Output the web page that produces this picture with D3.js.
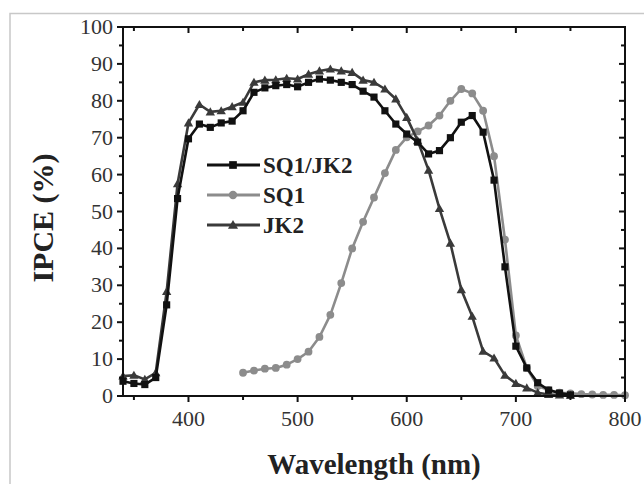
<!DOCTYPE html>
<html><head><meta charset="utf-8">
<script src="https://cdn.jsdelivr.net/npm/d3@7"></script>
<style>body{margin:0;background:#fff}svg{display:block}</style>
</head><body>
<svg id="c" width="644" height="484"></svg>
<script>
const wavelengths = [340,350,360,370,380,390,400,410,420,430,440,450,460,470,480,490,500,510,520,530,540,550,560,570,580,590,600,610,620,630,640,650,660,670,680,690,700,710,720,730,740,750];
const sq1jk2 = [4,3.4,3.1,5,24.7,53.5,69.7,73.7,72.8,74,74.5,77.3,82.3,83.5,84.1,84.4,83.8,85,85.9,85.6,85,84.4,82.6,81,77.3,73.7,71,68.8,65.6,66.5,70,74.2,76,71.5,58.5,35,13.5,7.6,3.6,1.6,0.8,0.3];
const jk2 = [5.4,5.6,4.5,6.3,28.3,57.5,74,79,77,77.3,78.4,79.6,85,85.6,85.7,86.1,85.9,87.2,88.1,88.6,88.1,87.7,85.6,85,83.2,80.5,75.5,69.2,61.2,50.8,41.4,28.8,21.6,12.1,10.3,5.6,3.4,2.2,0.9,0.4,0.3,0.2];
const sq1Wavelengths = [450,460,470,480,490,500,510,520,530,540,550,560,570,580,590,600,610,620,630,640,650,660,670,680,690,700,710,720,730,740,750,760,770,780,790,800];
const sq1 = [6.3,6.9,7.4,7.6,8.5,10,12,16,22,30.6,40,47.2,53.8,60.4,66.7,70.1,71.7,73.3,76,80,83.2,82,77.3,65,42.4,16.4,7.6,2.7,1.6,0.9,0.7,0.5,0.4,0.3,0.3,0.2];
const xMajor = [400,500,600,700,800];
const xMinor = [350,450,550,650,750];
const yMajor = [0,10,20,30,40,50,60,70,80,90,100];
const yMinor = [5,15,25,35,45,55,65,75,85,95];
const seriesNames = ["SQ1/JK2","SQ1","JK2"];

const svg = d3.select("#c");
const L=123,R=625,T=27,B=396;
const x = d3.scaleLinear().domain([340,800]).range([L,R]);
const y = d3.scaleLinear().domain([0,100]).range([B,T]);
const serif = "'Liberation Serif','Times New Roman',serif";

// outer light frame
svg.append("rect").attr("x",10).attr("y",13.5).attr("width",700).attr("height",600)
  .attr("fill","none").attr("stroke","#c8c8c8").attr("stroke-width",1.5);

const series = [
  {name:seriesNames[0], xs:wavelengths, ys:sq1jk2, color:"#111", shape:"square"},
  {name:seriesNames[1], xs:sq1Wavelengths, ys:sq1, color:"#8c8c8c", shape:"circle"},
  {name:seriesNames[2], xs:wavelengths, ys:jk2, color:"#3a3a3a", shape:"triangle"}
];
const drawOrder = [series[1], series[2], series[0]];
const line = d3.line().x(d=>x(d[0])).y(d=>y(d[1]));
function marker(g, shape, color, cx, cy, s){
  if(shape==="square") g.append("rect").attr("x",cx-s*0.55).attr("y",cy-s*0.55).attr("width",s*1.1).attr("height",s*1.1).attr("fill",color);
  else if(shape==="circle") g.append("circle").attr("cx",cx).attr("cy",cy).attr("r",s*0.6).attr("fill",color);
  else g.append("path").attr("d",d3.symbol(d3.symbolTriangle, s*s*0.9)()).attr("transform",`translate(${cx},${cy+0.8})`).attr("fill",color);
}
drawOrder.forEach(s=>{
  const pts = s.xs.map((w,i)=>[w,s.ys[i]]);
  const g = svg.append("g");
  g.append("path").datum(pts).attr("d",line).attr("fill","none").attr("stroke",s.color).attr("stroke-width",2.6).attr("stroke-linejoin","round");
  pts.forEach(p=>marker(g,s.shape,s.color,x(p[0]),y(p[1]),6.5));
});

// frame
svg.append("rect").attr("x",L).attr("y",T).attr("width",R-L).attr("height",B-T)
  .attr("fill","none").attr("stroke","#111").attr("stroke-width",2);

// ticks
const tk = svg.append("g").attr("stroke","#111").attr("stroke-width",2);
xMajor.concat(xMinor).forEach(v=>{
  const len = xMajor.includes(v)?6:4;
  tk.append("line").attr("x1",x(v)).attr("x2",x(v)).attr("y1",B).attr("y2",B+len);
  tk.append("line").attr("x1",x(v)).attr("x2",x(v)).attr("y1",T).attr("y2",T+len);
});
yMajor.concat(yMinor).forEach(v=>{
  const len = yMajor.includes(v)?6:4;
  tk.append("line").attr("x1",L).attr("x2",L-len).attr("y1",y(v)).attr("y2",y(v));
  tk.append("line").attr("x1",R).attr("x2",R-len).attr("y1",y(v)).attr("y2",y(v));
});

// tick labels
svg.append("g").selectAll("text").data(xMajor).join("text")
  .attr("x",d=>x(d)).attr("y",B+30).attr("text-anchor","middle")
  .attr("font-family",serif).attr("font-size",22).attr("fill","#333").text(d=>d);
svg.append("g").selectAll("text").data(yMajor).join("text")
  .attr("x",L-10).attr("y",d=>y(d)+7).attr("text-anchor","end")
  .attr("font-family",serif).attr("font-size",22).attr("fill","#333").text(d=>d);

// axis titles
svg.append("text").attr("x",374).attr("y",474).attr("text-anchor","middle")
  .attr("font-family",serif).attr("font-weight","bold").attr("font-size",29).attr("fill","#222")
  .text("Wavelength (nm)");
svg.append("text").attr("transform","translate(53,218) rotate(-90)").attr("text-anchor","middle")
  .attr("font-family",serif).attr("font-weight","bold").attr("font-size",30).attr("fill","#222")
  .text("IPCE (%)");

// legend
const lg = svg.append("g");
series.forEach((s,i)=>{
  const ly = 165 + i*30;
  lg.append("line").attr("x1",207).attr("x2",260).attr("y1",ly).attr("y2",ly).attr("stroke",s.color).attr("stroke-width",2.8);
  marker(lg,s.shape,s.color,233,ly,7);
  lg.append("text").attr("x",263).attr("y",ly+8).attr("font-family",serif).attr("font-weight","bold")
    .attr("font-size",23).attr("fill","#222").text(s.name);
});
</script>
</body></html>
